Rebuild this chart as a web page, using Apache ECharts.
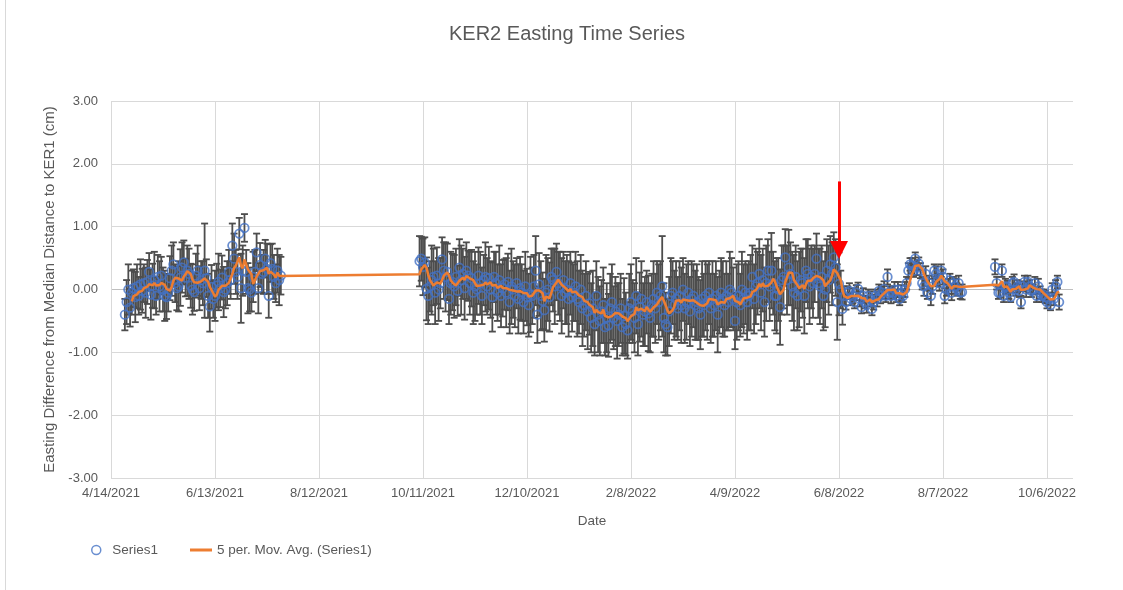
<!DOCTYPE html>
<html>
<head>
<meta charset="utf-8">
<title>KER2 Easting Time Series</title>
<script src="https://cdn.jsdelivr.net/npm/echarts@6/dist/echarts.min.js"></script>
<style>
  html, body { margin: 0; padding: 0; background: #fff; }
  #chart { width: 1123px; height: 590px; }
</style>
</head>
<body>
<div id="chart"></div>
<script>
// axis range and tick step (days)
const axisStart = '2021-04-14';
const axisEnd = '2022-10-21';
const xTickStep = 60;
const yTicks = [-3, -2, -1, 0, 1, 2, 3];

// daily observations, one run per block of data
const seg1Start = '2021-04-22';
const seg1Values = [
  -0.40,-0.20,0.00,-0.29,-0.05,0.02,-0.12,0.05,-0.10,0.08,
  -0.02,0.10,-0.05,0.12,0.28,-0.08,0.06,0.15,-0.10,0.20,
  0.05,0.22,0.00,-0.10,-0.12,-0.05,0.18,0.30,0.40,0.10,
  0.02,0.05,0.19,0.35,0.43,0.19,0.30,0.25,0.06,0.00,
  -0.04,0.22,0.30,0.02,0.15,0.10,0.30,0.18,-0.10,-0.27,
  0.04,-0.15,-0.10,0.06,0.12,0.02,0.19,-0.04,0.00,0.10,
  0.28,0.15,0.70,0.49,0.28,0.20,0.89,0.02,0.30,0.98,
  0.28,0.02,0.00,-0.05,0.20,0.28,0.59,0.02,0.39,0.25,
  0.28,0.49,0.33,-0.10,0.42,0.33,0.20,0.10,0.30,0.15,
  0.22
];
const seg1Errors = [
  0.25,0.35,0.40,0.30,0.35,0.30,0.40,0.35,0.30,0.40,
  0.35,0.30,0.40,0.35,0.30,0.40,0.35,0.45,0.30,0.35,
  0.40,0.30,0.35,0.40,0.35,0.30,0.35,0.40,0.35,0.30,
  0.35,0.40,0.45,0.40,0.35,0.30,0.40,0.40,0.35,0.40,
  0.30,0.35,0.40,0.35,0.30,0.35,0.75,0.30,0.35,0.40,
  0.35,0.30,0.40,0.35,0.45,0.30,0.35,0.40,0.30,0.35,
  0.35,0.30,0.35,0.40,0.35,0.35,0.25,0.55,0.40,0.22,
  0.35,0.40,0.35,0.30,0.40,0.35,0.30,0.40,0.35,0.30,
  0.35,0.30,0.40,0.35,0.30,0.40,0.35,0.30,0.35,0.40,
  0.30
];

const seg2Start = '2021-10-09';
const seg2Values = [
  0.45,0.49,0.36,0.43,0.01,-0.10,0.05,0.15,0.20,-0.05,
  0.22,0.00,0.10,0.48,0.30,0.20,0.28,-0.15,0.10,0.12,
  0.05,0.20,-0.02,0.35,0.15,0.25,0.02,0.30,0.22,0.10,
  0.18,-0.05,0.05,0.00,0.22,0.10,-0.10,0.15,0.20,0.05,
  0.18,0.00,-0.12,0.20,0.10,-0.05,0.15,-0.10,0.02,0.08,
  -0.05,0.12,-0.20,0.05,0.00,-0.10,0.10,-0.15,0.02,-0.05,
  -0.20,0.05,-0.12,-0.25,-0.08,-0.10,0.05,0.30,-0.40,0.08,
  -0.10,-0.18,-0.33,-0.05,0.00,-0.12,0.20,0.15,0.05,0.28,
  0.10,0.05,-0.10,0.15,-0.05,0.00,-0.15,0.10,-0.12,-0.05,
  0.05,-0.15,-0.20,0.00,-0.30,-0.25,-0.10,-0.35,-0.22,-0.45,
  -0.30,-0.55,-0.10,-0.40,-0.50,-0.35,-0.25,-0.60,-0.45,-0.57,
  -0.30,-0.20,-0.45,-0.35,-0.50,-0.40,-0.30,-0.60,-0.42,-0.55,
  -0.65,-0.30,-0.20,-0.35,-0.45,-0.10,-0.55,-0.28,-0.15,-0.40,
  -0.35,-0.20,-0.38,-0.45,-0.25,-0.15,-0.30,-0.05,-0.20,-0.10,
  0.05,-0.45,-0.55,-0.60,-0.35,-0.10,-0.05,-0.25,-0.15,-0.30,
  -0.10,-0.25,0.00,-0.30,-0.20,-0.05,-0.35,-0.15,-0.10,-0.25,
  -0.20,-0.30,-0.40,-0.15,-0.25,-0.10,-0.20,-0.05,-0.30,-0.15,
  -0.25,-0.10,-0.40,-0.20,-0.05,-0.15,-0.25,-0.10,-0.20,0.00,
  -0.05,-0.15,-0.50,-0.20,-0.10,-0.25,0.00,-0.15,-0.05,-0.20,
  -0.10,-0.05,0.20,-0.15,0.05,0.10,0.25,-0.05,0.15,-0.20,
  0.10,0.30,0.05,0.30,0.10,-0.10,-0.10,0.00,-0.28,0.15,
  0.20,0.51,0.15,0.35,0.25,0.05,-0.05,0.20,-0.10,0.00,
  0.15,0.10,-0.10,0.30,0.25,0.05,0.20,0.10,0.25,0.49,
  0.10,0.05,0.20,-0.10,0.00,0.30,0.15,0.40,0.25,0.51,
  0.35,-0.20,0.09
];
const seg2Errors = [
  0.40,0.35,0.45,0.40,0.50,0.45,0.40,0.55,0.45,0.50,
  0.45,0.50,0.40,0.35,0.45,0.55,0.45,0.40,0.50,0.45,
  0.50,0.45,0.40,0.45,0.55,0.40,0.50,0.45,0.40,0.50,
  0.45,0.50,0.55,0.40,0.45,0.50,0.45,0.40,0.55,0.45,
  0.50,0.45,0.55,0.40,0.50,0.45,0.55,0.50,0.45,0.40,
  0.55,0.45,0.50,0.60,0.45,0.50,0.40,0.55,0.50,0.45,
  0.50,0.55,0.45,0.50,0.60,0.45,0.50,0.55,0.45,0.50,
  0.55,0.45,0.50,0.60,0.50,0.55,0.45,0.50,0.60,0.45,
  0.50,0.55,0.60,0.45,0.50,0.55,0.60,0.50,0.55,0.45,
  0.55,0.60,0.50,0.55,0.60,0.50,0.55,0.60,0.50,0.55,
  0.60,0.50,0.55,0.60,0.55,0.50,0.60,0.45,0.55,0.50,
  0.55,0.60,0.50,0.55,0.60,0.50,0.55,0.45,0.60,0.50,
  0.45,0.55,0.60,0.50,0.55,0.60,0.50,0.55,0.60,0.50,
  0.55,0.50,0.60,0.55,0.50,0.60,0.55,0.50,0.60,0.55,
  0.80,0.55,0.50,0.45,0.55,0.60,0.50,0.55,0.60,0.50,
  0.55,0.60,0.50,0.55,0.60,0.50,0.55,0.60,0.50,0.55,
  0.60,0.50,0.55,0.60,0.50,0.55,0.60,0.50,0.55,0.60,
  0.50,0.55,0.60,0.50,0.55,0.60,0.50,0.55,0.45,0.60,
  0.55,0.50,0.45,0.60,0.55,0.50,0.60,0.55,0.50,0.60,
  0.55,0.60,0.50,0.55,0.60,0.50,0.55,0.60,0.50,0.55,
  0.60,0.50,0.55,0.60,0.50,0.55,0.60,0.50,0.60,0.55,
  0.50,0.45,0.55,0.60,0.50,0.55,0.60,0.50,0.55,0.60,
  0.50,0.55,0.60,0.50,0.55,0.60,0.50,0.55,0.45,0.40,
  0.55,0.60,0.50,0.55,0.60,0.50,0.55,0.45,0.50,0.40,
  0.45,0.60,0.50
];

const seg3Start = '2022-06-09';
const seg3Values = [
  0.00,-0.31,-0.10,-0.20,-0.05,-0.02,-0.15,-0.10,-0.20,-0.05,
  0.01,-0.15,-0.28,-0.10,-0.20,-0.25,-0.10,-0.15,-0.31,-0.20,
  -0.10,-0.15,-0.02,-0.10,-0.05,0.01,-0.10,0.20,-0.05,-0.10,
  -0.05,0.00,-0.10,0.00,-0.15,-0.05,-0.10,0.00,0.10,0.30,
  0.40,0.38,0.30,0.49,0.35,0.41,0.30,0.10,0.05,0.25,
  -0.05,0.10,-0.10,0.05,0.30,0.25,0.15,0.10,0.30,0.20,
  -0.10,0.00,0.05,0.15,-0.05,0.10,0.05,0.00,0.10,-0.05,-0.04
];
const seg3Errors = [
  0.30,0.25,0.15,0.12,0.10,0.12,0.10,0.12,0.10,0.12,
  0.10,0.12,0.10,0.12,0.10,0.12,0.10,0.12,0.10,0.12,
  0.10,0.12,0.10,0.12,0.10,0.12,0.10,0.12,0.10,0.12,
  0.10,0.12,0.10,0.12,0.10,0.12,0.10,0.12,0.10,0.12,
  0.10,0.12,0.10,0.10,0.12,0.10,0.12,0.10,0.15,0.12,
  0.10,0.12,0.15,0.12,0.10,0.12,0.10,0.12,0.10,0.12,
  0.12,0.10,0.12,0.10,0.12,0.10,0.12,0.10,0.12,0.10,0.12
];

const seg4Start = '2022-09-06';
const seg4Values = [
  0.36,0.10,-0.05,-0.05,0.30,-0.10,0.05,0.04,-0.05,-0.12,
  0.10,0.12,0.00,0.05,-0.02,-0.20,0.05,0.12,0.00,0.12,
  0.05,-0.02,0.00,0.10,-0.10,0.05,-0.05,-0.10,-0.08,-0.12,
  -0.20,-0.15,-0.25,0.00,-0.15,0.05,0.12,-0.20
];
const seg4Errors = [
  0.12,0.10,0.10,0.08,0.10,0.10,0.12,0.10,0.10,0.08,
  0.10,0.12,0.10,0.10,0.10,0.10,0.08,0.10,0.12,0.10,
  0.10,0.10,0.08,0.10,0.10,0.12,0.10,0.10,0.08,0.10,
  0.10,0.10,0.08,0.10,0.10,0.10,0.10,0.12
];

// red arrow annotation
const arrowDate = '2022-06-08';
const arrowFrom = 1.72;
const arrowTo = 0.63;

const maPeriod = 5;

// ---- helpers ----
const DAY = 86400000;
function utc(s) {
  const p = s.split('-').map(Number);
  return Date.UTC(p[0], p[1] - 1, p[2]);
}
const origin = utc(axisStart);
function dayNum(s) { return Math.round((utc(s) - origin) / DAY); }
function fmtDay(v) {
  const d = new Date(origin + v * DAY);
  return (d.getUTCMonth() + 1) + '/' + d.getUTCDate() + '/' + d.getUTCFullYear();
}

const segments = [
  [seg1Start, seg1Values, seg1Errors],
  [seg2Start, seg2Values, seg2Errors],
  [seg3Start, seg3Values, seg3Errors],
  [seg4Start, seg4Values, seg4Errors]
];

const points = [];
const errBars = [];
segments.forEach(function (seg) {
  const d0 = dayNum(seg[0]);
  seg[1].forEach(function (v, i) {
    points.push([d0 + i, v]);
    errBars.push([d0 + i, v - seg[2][i], v + seg[2][i]]);
  });
});

// Excel style n-point moving average over consecutive points
const movAvg = [];
for (let i = maPeriod - 1; i < points.length; i++) {
  let s = 0;
  for (let k = 0; k < maPeriod; k++) s += points[i - k][1];
  movAvg.push([points[i][0], s / maPeriod]);
}

const textColor = '#595959';
const font = 'Liberation Sans';
const maName = '5 per. Mov. Avg. (Series1)';

const chart = echarts.init(document.getElementById('chart'));

chart.setOption({
  backgroundColor: '#fff',
  animation: false,
  textStyle: { fontFamily: font },
  title: {
    text: 'KER2 Easting Time Series',
    left: 444,
    top: 19,
    textStyle: { color: textColor, fontSize: 20, fontWeight: 'normal', fontFamily: font }
  },
  grid: { left: 111, right: 50, top: 101, bottom: 112 },
  legend: [
    {
      left: 86,
      top: 538,
      itemWidth: 22,
      itemHeight: 9,
      textStyle: { color: textColor, fontSize: 13.5, fontFamily: font },
      data: [
        { name: 'Series1', icon: 'circle',
          itemStyle: { color: 'rgba(0,0,0,0)', borderColor: '#4472C4', borderWidth: 1.5 } }
      ]
    },
    {
      left: 185,
      top: 538,
      itemWidth: 22,
      itemHeight: 3,
      textStyle: { color: textColor, fontSize: 13.5, fontFamily: font },
      data: [
        { name: maName, icon: 'rect', itemStyle: { color: '#ED7D31' } }
      ]
    }
  ],
  xAxis: {
    type: 'value',
    min: dayNum(axisStart),
    max: dayNum(axisEnd),
    interval: xTickStep,
    name: 'Date',
    nameLocation: 'middle',
    nameGap: 36,
    nameTextStyle: { color: textColor, fontSize: 13.5 },
    axisLine: { show: false },
    axisTick: { show: false },
    axisLabel: { color: textColor, fontSize: 13, margin: 9, showMaxLabel: false, formatter: fmtDay },
    splitLine: { show: true, showMaxLine: false, lineStyle: { color: '#d9d9d9', width: 1 } }
  },
  yAxis: {
    type: 'value',
    min: yTicks[0],
    max: yTicks[yTicks.length - 1],
    interval: 1,
    name: 'Easting Difference from Median Distance to KER1 (cm)',
    nameLocation: 'middle',
    nameGap: 50,
    nameTextStyle: { color: textColor, fontSize: 15 },
    axisLine: { show: false },
    axisTick: { show: false },
    axisLabel: { color: textColor, fontSize: 13, margin: 13, formatter: function (v) { return v.toFixed(2); } },
    splitLine: {
      show: true,
      lineStyle: {
        color: yTicks.map(function (t) { return t === 0 ? '#bfbfbf' : '#d9d9d9'; }),
        width: 1
      }
    }
  },
  graphic: [
    { type: 'line', shape: { x1: 5.5, y1: 0, x2: 5.5, y2: 590 },
      style: { stroke: '#d9d9d9', lineWidth: 1 }, silent: true }
  ],
  series: [
    {
      name: 'errors',
      type: 'custom',
      z: 2,
      silent: true,
      data: errBars,
      encode: { x: 0, y: [1, 2] },
      renderItem: function (params, api) {
        const x = api.value(0);
        const lo = api.coord([x, api.value(1)]);
        const hi = api.coord([x, api.value(2)]);
        const hw = 3.5;
        const st = { stroke: '#4d4d4d', lineWidth: 1.8 };
        return {
          type: 'group',
          children: [
            { type: 'line', shape: { x1: hi[0], y1: hi[1], x2: lo[0], y2: lo[1] }, style: st },
            { type: 'line', shape: { x1: hi[0] - hw, y1: hi[1], x2: hi[0] + hw, y2: hi[1] }, style: st },
            { type: 'line', shape: { x1: lo[0] - hw, y1: lo[1], x2: lo[0] + hw, y2: lo[1] }, style: st }
          ]
        };
      }
    },
    {
      name: 'Series1',
      type: 'scatter',
      z: 3,
      symbol: 'circle',
      symbolSize: 8.5,
      itemStyle: { color: 'rgba(0,0,0,0)', borderColor: '#4472C4', borderWidth: 1.75 },
      data: points
    },
    {
      name: maName,
      type: 'line',
      z: 4,
      symbol: 'none',
      color: '#ED7D31',
      lineStyle: { color: '#ED7D31', width: 2.5 },
      data: movAvg,
      markLine: {
        silent: true,
        symbol: ['none', 'triangle'],
        symbolSize: 18,
        label: { show: false },
        lineStyle: { color: '#FF0000', width: 3, type: 'solid' },
        itemStyle: { color: '#FF0000' },
        data: [[
          { coord: [dayNum(arrowDate), arrowFrom] },
          { coord: [dayNum(arrowDate), arrowTo] }
        ]]
      }
    }
  ]
});
</script>
</body>
</html>
